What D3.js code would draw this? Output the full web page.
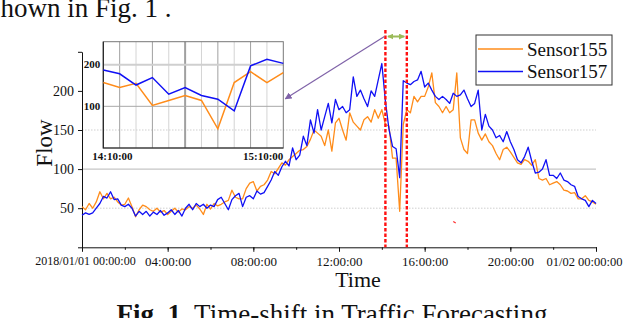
<!DOCTYPE html>
<html>
<head>
<meta charset="utf-8">
<script src="https://cdn.jsdelivr.net/npm/d3@7"></script>
<style>
body { margin: 0; background: #fff; }
svg { display: block; font-family: "Liberation Serif", "Times New Roman", serif; }
svg text { font-family: "Liberation Serif", "Times New Roman", serif; }
</style>
</head>
<body>
<div id="chart"></div>
<script>
// flow every 10 minutes, 2018/01/01 00:00 -> 01/02 00:00
var sensor155 = [
	52, 48, 56, 50, 58, 71,   62, 69, 62, 64, 58, 54,   55, 63, 52, 39, 48, 54,
	52, 48, 46, 50, 45, 47,   42, 46, 50, 45, 49, 48,   52, 50, 54, 49, 42, 55,
	49, 56, 53, 55, 58, 60,   73, 64, 62, 62, 75, 82,   84, 72, 78, 80, 86, 97,
	94, 101, 108, 105, 112, 116,   120, 124, 125, 129, 138, 150,   146, 142, 130, 150, 123, 159,
	165, 150, 137, 172, 160, 155,   150, 163, 167, 160, 176, 165,   176, 157, 155, 114, 114, 46,
	157, 176, 172, 193, 186, 193,   193, 205, 223, 185, 180, 172,   180, 172, 176, 223, 140, 125,
	120, 163, 163, 146, 137, 145,   135, 130, 120, 112, 125, 128,   122, 115, 108, 106, 112, 110,
	105, 112, 88, 86, 88, 80,   82, 84, 80, 73, 72, 69,   70, 62, 62, 66, 60, 58,
	55
];
var sensor157 = [
	41, 44, 42, 44, 50, 56,   65, 63, 71, 61, 62, 54,   52, 55, 50, 40, 46, 42,
	46, 40, 45, 42, 47, 41,   44, 48, 42, 47, 40, 50,   55, 48, 56, 52, 55, 50,
	54, 52, 61, 64, 56, 48,   61, 66, 69, 52, 64, 66,   62, 72, 68, 70, 78, 86,
	97, 92, 103, 110, 104, 127,   112, 118, 142, 130, 163, 146,   176, 150, 167, 184, 159, 189,
	176, 180, 172, 176, 218, 193,   201, 190, 180, 200, 193, 214,   235, 187, 151, 129, 126, 89,
	213, 210, 208, 212, 214, 225,   205, 210, 201, 193, 189, 193,   189, 184, 197, 193, 195, 201,
	190, 180, 184, 201, 150, 170,   155, 150, 140, 143, 135, 148,   135, 125, 112, 108, 116, 128,
	110, 95, 96, 100, 112, 92,   92, 88, 95, 86, 84, 80,   78, 65, 62, 60, 52, 60,
	56
];

// zoomed window, every 5 minutes
var zoomTimes = ["14:10", "14:15", "14:20", "14:25", "14:30", "14:35", "14:40", "14:45", "14:50", "14:55", "15:00", "15:05"];
var zoom155 = [157, 145, 155, 102, 114, 126, 114, 46, 157, 183, 157, 181];
var zoom157 = [187, 178, 151, 169, 129, 145, 126, 117, 89, 197, 213, 203];
var zoomTickLabels = ["14:10:00", "15:10:00"];
var zoomYTicks = [100, 200];

var xTickLabels = ["2018/01/01 00:00:00", "04:00:00", "08:00:00", "12:00:00", "16:00:00", "20:00:00", "01/02 00:00:00"];
var yTicks = [0, 50, 100, 150, 200, 250];
var yLabels = [50, 100, 150, 200];
var seriesNames = ["Sensor155", "Sensor157"];
var colors = ["#ff8c1a", "#1010f5"];
var shiftWindow = [[14, 10], [15, 10]];

var width = 624, height = 318;

var svg = d3.select("#chart").append("svg")
	.attr("width", width)
	.attr("height", height);

var defs = svg.append("defs");
function arrowMarker(id, color, orient, size) {
	defs.append("marker").attr("id", id)
		.attr("viewBox", "0 0 10 10").attr("refX", 9).attr("refY", 5)
		.attr("markerUnits", "userSpaceOnUse")
		.attr("markerWidth", size).attr("markerHeight", size)
		.attr("orient", orient)
		.append("path").attr("d", "M0,0L10,5L0,10z").attr("fill", color);
}
arrowMarker("arrPurple", "#7f62a8", "auto", 7);
arrowMarker("arrGreen", "#9bbb59", "auto-start-reverse", 6);

function at(h, m) { return new Date(2018, 0, 1, h, m); }
var t0 = at(0, 0);
var times = sensor155.map(function (d, i) { return new Date(t0.getTime() + i * 600000); });

var x = d3.scaleTime().domain([t0, new Date(2018, 0, 2)]).range([82, 596]);
var y = d3.scaleLinear().domain([0, 250]).range([247.3, 51.8]);

// text above the figure
svg.append("text").attr("x", -10).attr("y", 17)
	.attr("font-size", 27).attr("fill", "#111")
	.text("shown in Fig. 1 .");

// grid
svg.append("g").selectAll("line").data([50, 100, 150]).enter().append("line")
	.attr("x1", x.range()[0]).attr("x2", x.range()[1])
	.attr("y1", function (d) { return y(d); }).attr("y2", function (d) { return y(d); })
	.attr("stroke", function (d) { return d == 100 ? "#b8b8b8" : "#cfcfcf"; })
	.attr("stroke-width", 1)
	.attr("stroke-dasharray", function (d) { return d == 100 ? null : "1.5,1.5"; });

// axes
var yAxis = svg.append("g").attr("transform", "translate(82,0)")
	.call(d3.axisLeft(y).tickValues(yTicks).tickSize(4).tickSizeOuter(0).tickPadding(4)
		.tickFormat(function (d) { return yLabels.indexOf(d) >= 0 ? d : ""; }));
yAxis.attr("font-family", null).attr("font-size", 14);
yAxis.selectAll("text").attr("fill", "#111");

var xMinor = svg.append("g").attr("transform", "translate(0,247.3)")
	.call(d3.axisBottom(x).ticks(d3.timeHour.every(2)).tickSize(2.5).tickSizeOuter(0).tickFormat(""));
xMinor.select(".domain").remove();

var xAxis = svg.append("g").attr("transform", "translate(0,247.3)")
	.call(d3.axisBottom(x).ticks(d3.timeHour.every(4)).tickSize(4.5).tickSizeOuter(0).tickPadding(5)
		.tickFormat(function (d, i) { return xTickLabels[i]; }));
xAxis.attr("font-family", null).attr("font-size", 13);
xAxis.selectAll("text").attr("fill", "#111");
xAxis.selectAll("text").filter(function (d, i) { return i == 0; })
	.attr("font-size", 12).attr("dx", 3);
xAxis.selectAll("text").filter(function (d, i) { return i == xTickLabels.length - 1; })
	.attr("font-size", 12.5).attr("text-anchor", "end").attr("dx", 26);
svg.selectAll(".domain, .tick line").attr("stroke", "#111");

// axis titles
svg.append("text").attr("transform", "translate(51.5,143) rotate(-90)")
	.attr("text-anchor", "middle").attr("font-size", 23).attr("fill", "#111").text("Flow");
svg.append("text").attr("x", 358).attr("y", 287)
	.attr("text-anchor", "middle").attr("font-size", 22).attr("fill", "#111").text("Time");

// series
var line = d3.line()
	.x(function (d, i) { return x(times[i]); })
	.y(function (d) { return y(d); });
[sensor155, sensor157].forEach(function (s, k) {
	svg.append("path").datum(s)
		.attr("fill", "none").attr("stroke", colors[k]).attr("stroke-width", 1.3)
		.attr("stroke-linejoin", "round")
		.attr("d", line);
});

// time-shift window
shiftWindow.forEach(function (w) {
	svg.append("line")
		.attr("x1", x(at(w[0], w[1]))).attr("x2", x(at(w[0], w[1])))
		.attr("y1", 30).attr("y2", y(0))
		.attr("stroke", "#ff1010").attr("stroke-width", 2.4)
		.attr("stroke-dasharray", "3.5,2");
});
svg.append("line")
	.attr("x1", x(at(14, 10)) + 2.5).attr("x2", x(at(15, 10)) - 2.5)
	.attr("y1", 36.5).attr("y2", 36.5)
	.attr("stroke", "#9bbb59").attr("stroke-width", 2)
	.attr("marker-start", "url(#arrGreen)").attr("marker-end", "url(#arrGreen)");

// small red mark
svg.append("line")
	.attr("x1", x(at(17, 20))).attr("y1", y(33))
	.attr("x2", x(at(17, 27))).attr("y2", y(31))
	.attr("stroke", "#ff3030").attr("stroke-width", 1.2);

// inset
var ix = d3.scaleLinear().domain([0, zoomTimes.length - 1]).range([103.3, 283.3]);
var iy = d3.scaleLinear().domain([0, 255]).range([148, 41.7]);
var inset = svg.append("g");

inset.selectAll(".vgrid").data(d3.range(1, zoomTimes.length - 1)).enter().append("line")
	.attr("class", "vgrid")
	.attr("x1", function (d) { return ix(d); }).attr("x2", function (d) { return ix(d); })
	.attr("y1", iy.range()[1]).attr("y2", iy.range()[0])
	.attr("stroke", function (d) { return d % 2 ? "#a0a0a0" : "#d4d4d4"; })
	.attr("stroke-width", function (d) { return d == 5 ? 2 : 1; });
inset.selectAll(".hgrid").data(zoomYTicks).enter().append("line")
	.attr("class", "hgrid")
	.attr("x1", ix.range()[0]).attr("x2", ix.range()[1])
	.attr("y1", function (d) { return iy(d); }).attr("y2", function (d) { return iy(d); })
	.attr("stroke", function (d) { return d == 200 ? "#cfcfcf" : "#a8a8a8"; })
	.attr("stroke-width", function (d) { return d == 200 ? 2 : 1; });
inset.append("rect")
	.attr("x", ix.range()[0]).attr("y", iy.range()[1])
	.attr("width", ix.range()[1] - ix.range()[0]).attr("height", iy.range()[0] - iy.range()[1])
	.attr("fill", "none").attr("stroke", "#777").attr("stroke-width", 1);
inset.append("path")
	.attr("d", "M" + ix.range()[0] + "," + iy.range()[1] + "V" + iy.range()[0] + "H" + ix.range()[1])
	.attr("fill", "none").attr("stroke", "#222").attr("stroke-width", 1.2);

inset.selectAll(".ylab").data(zoomYTicks).enter().append("text")
	.attr("class", "ylab")
	.attr("x", ix.range()[0] - 3).attr("y", function (d) { return iy(d); })
	.attr("dy", "0.35em").attr("text-anchor", "end")
	.attr("font-size", 11).attr("font-weight", "bold").attr("fill", "#111")
	.text(function (d) { return d; });
inset.append("text").attr("x", ix(0) - 11).attr("y", 160)
	.attr("font-size", 11).attr("font-weight", "bold").attr("fill", "#111")
	.text(zoomTickLabels[0]);
inset.append("text").attr("x", ix(zoomTimes.length - 1)).attr("y", 160)
	.attr("text-anchor", "end")
	.attr("font-size", 11).attr("font-weight", "bold").attr("fill", "#111")
	.text(zoomTickLabels[1]);

var iline = d3.line()
	.x(function (d, i) { return ix(i); })
	.y(function (d) { return iy(d); });
[zoom155, zoom157].forEach(function (s, k) {
	inset.append("path").datum(s)
		.attr("fill", "none").attr("stroke", colors[k]).attr("stroke-width", 1.5)
		.attr("d", iline);
});

// pointer from window to inset
svg.append("line")
	.attr("x1", x(at(14, 10)) - 1).attr("y1", 36.5)
	.attr("x2", ix.range()[1] + 2).attr("y2", iy(118))
	.attr("stroke", "#7f62a8").attr("stroke-width", 1.2)
	.attr("marker-end", "url(#arrPurple)");

// legend
var legend = svg.append("g").attr("transform", "translate(476,35)");
legend.append("rect").attr("width", 136).attr("height", 50)
	.attr("fill", "#fff").attr("stroke", "#333").attr("stroke-width", 1);
seriesNames.forEach(function (name, k) {
	var ly = 14 + k * 22.5;
	legend.append("line").attr("x1", 2).attr("x2", 47).attr("y1", ly).attr("y2", ly)
		.attr("stroke", colors[k]).attr("stroke-width", 1.5);
	legend.append("text").attr("x", 51).attr("y", ly).attr("dy", "0.35em")
		.attr("font-size", 19).attr("fill", "#111").text(name);
});

// caption
var cap = svg.append("text").attr("x", 332).attr("y", 323)
	.attr("text-anchor", "middle").attr("font-size", 27).attr("fill", "#111");
cap.append("tspan").attr("font-weight", "bold").text("Fig. 1.");
cap.append("tspan").text(" Time-shift in Traffic Forecasting");
</script>
</body>
</html>
